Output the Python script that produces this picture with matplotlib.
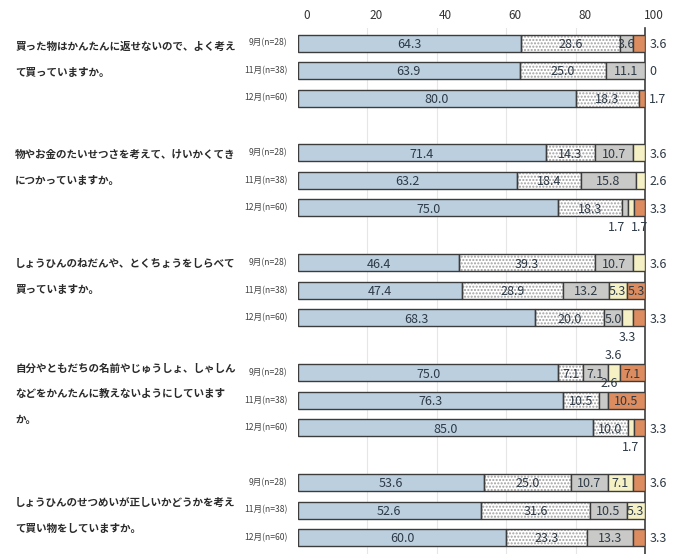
import numpy as np
import matplotlib.pyplot as plt
import matplotlib.transforms as mtransforms

plt.rcParams['font.family'] = ['Noto Sans CJK JP', 'DejaVu Sans']

#Data
questions = [
    "買った物はかんたんに返せないので、よく考え\nて買っていますか。",
    "物やお金のたいせつさを考えて、けいかくてき\nにつかっていますか。",
    "しょうひんのねだんや、とくちょうをしらべて\n買っていますか。",
    "自分やともだちの名前やじゅうしょ、しゃしん\nなどをかんたんに教えないようにしています\nか。",
    "しょうひんのせつめいが正しいかどうかを考え\nて買い物をしていますか。",
]
months = ["9月(n=28)", "11月(n=38)", "12月(n=60)"]

# five answer categories, one row per month, one block per question
seg1 = [[64.3, 63.9, 80.0], [71.4, 63.2, 75.0], [46.4, 47.4, 68.3], [75.0, 76.3, 85.0], [53.6, 52.6, 60.0]]
seg2 = [[28.6, 25.0, 18.3], [14.3, 18.4, 18.3], [39.3, 28.9, 20.0], [7.1, 10.5, 10.0], [25.0, 31.6, 23.3]]
seg3 = [[3.6, 11.1, 0.0], [10.7, 15.8, 1.7], [10.7, 13.2, 5.0], [7.1, 2.6, 0.0], [10.7, 10.5, 13.3]]
seg4 = [[0.0, 0.0, 0.0], [3.6, 2.6, 1.7], [3.6, 5.3, 3.3], [3.6, 0.0, 1.7], [7.1, 5.3, 0.0]]
seg5 = [[3.6, 0.0, 1.7], [0.0, 0.0, 3.3], [0.0, 5.3, 3.3], [7.1, 10.5, 3.3], [3.6, 0.0, 3.3]]

# where the small values are written (question, month, segment): place
small_labels = {
    (0, 0, 4): 'right', (0, 1, 4): 'right', (0, 2, 4): 'right',
    (1, 0, 3): 'right', (1, 1, 3): 'right',
    (1, 2, 2): 'below_l', (1, 2, 3): 'below_r', (1, 2, 4): 'right',
    (2, 0, 3): 'right', (2, 2, 3): 'below', (2, 2, 4): 'right',
    (3, 0, 3): 'above', (3, 1, 2): 'above_r',
    (3, 2, 3): 'below', (3, 2, 4): 'right',
    (4, 0, 4): 'right', (4, 2, 4): 'right',
}

colors = ['#bccfdf', '#ffffff', '#c9c9c7', '#f6f1c4', '#dc8c5e']
edge = '#3c3c3c'
txt = '#2e3a46'

#Figure setup
W, H = 682, 554
fig = plt.figure(figsize=(W / 100, H / 100), dpi=100)
ax = fig.add_axes([298 / W, 0, (645 - 298) / W, 1 - 28 / H])
ax.set_xlim(0, 100)
ax.set_ylim(18.6, -0.55)
for s in ['top', 'left', 'bottom']:
    ax.spines[s].set_visible(False)
ax.spines['right'].set_color(edge)
ax.spines['right'].set_linewidth(1.2)
ax.set_yticks([])
ax.xaxis.tick_top()
ax.set_xticks([0, 20, 40, 60, 80, 100])
ax.tick_params(axis='x', length=0, labelsize=8.5, labelcolor='#333333', pad=4)
shift = mtransforms.ScaledTranslation(9 / 100, 0, fig.dpi_scale_trans)
for lab in ax.get_xticklabels():
    lab.set_transform(lab.get_transform() + shift)
for g in [20, 40, 60, 80]:
    ax.axvline(g, color='#e6e6e6', lw=0.8, zorder=0)

segs = [seg1, seg2, seg3, seg4, seg5]
q_text_row = [0.6, 0.55, 0.5, 0.78, 1.2]
bh = 0.62
for q in range(len(questions)):
    for m in range(len(months)):
        y = q * 4 + m
        left = 0.0
        for k in range(5):
            v = segs[k][q][m]
            if k == 1:
                ax.barh(y, v, left=left, height=bh, color='white', edgecolor='#a0a0a0',
                        hatch='.....', linewidth=0, zorder=2)
                ax.barh(y, v, left=left, height=bh, color='none', edgecolor=edge,
                        linewidth=1.0, zorder=3)
            elif v > 0:
                ax.barh(y, v, left=left, height=bh, color=colors[k], edgecolor=edge,
                        linewidth=1.0, zorder=3)
            place = small_labels.get((q, m, k))
            cx = left + v / 2
            lbl = '%.1f' % v if v > 0 else '0'
            if place is None:
                if v >= 3.5:
                    ax.text(cx, y + 0.05, lbl, ha='center', va='center', fontsize=9,
                            color=txt, zorder=4)
            elif place == 'right':
                ax.text(101.2, y + 0.05, lbl, ha='left', va='center', fontsize=9,
                        color=txt, clip_on=False)
            elif place.startswith('below'):
                ha = {'below': 'center', 'below_l': 'right', 'below_r': 'left'}[place]
                ax.text(cx, y + 0.72, lbl, ha=ha, va='center', fontsize=9, color=txt)
            else:
                dx = 1.5 if place == 'above_r' else 0
                ax.text(cx + dx, y - 0.62, lbl, ha='center', va='center', fontsize=9,
                        color=txt)
            left += v
        ax.text(-3, y, months[m], ha='right', va='center', fontsize=6.2,
                color='#444444', clip_on=False)
    ax.text(-81.5, q * 4 + q_text_row[q], questions[q], ha='left', va='center',
            fontsize=7.6, fontweight='bold', color='#2a2a2a', linespacing=3.0,
            clip_on=False)

plt.savefig('out.png', dpi=100, facecolor='white')
